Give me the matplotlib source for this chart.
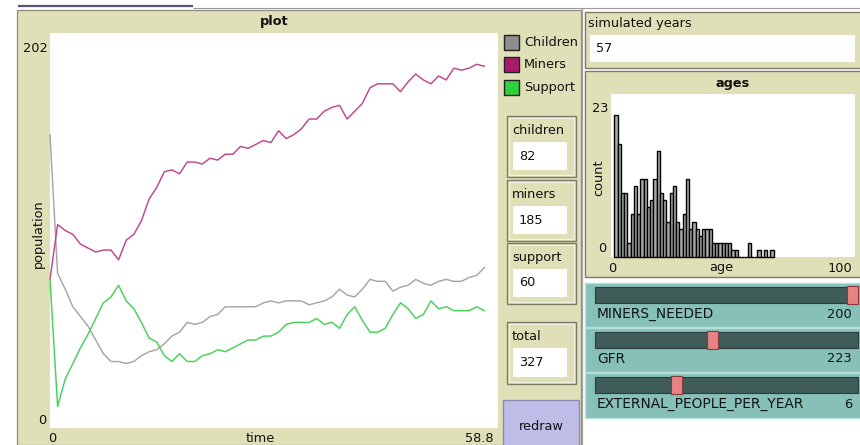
import matplotlib
matplotlib.use('Agg')
import matplotlib.pyplot as plt
from matplotlib.patches import Rectangle
import numpy as np

# ---------------- data ----------------
years = list(range(58))
children = [150, 79, 71, 62, 57, 52, 45, 38, 34, 34, 33, 34, 37, 39, 40, 43, 47, 49, 54, 53,
            54, 57, 58, 62, 62, 62, 62, 62, 64, 65, 64, 65, 65, 65, 63, 64, 65, 67, 71, 68,
            67, 71, 76, 75, 75, 70, 72, 73, 76, 74, 73, 75, 76, 75, 75, 77, 78, 82]
miners = [76, 104, 101, 99, 94, 92, 90, 91, 91, 86, 96, 99, 106, 117, 123, 131, 132, 130, 136, 136,
          135, 138, 137, 140, 140, 144, 143, 145, 147, 146, 152, 148, 150, 153, 158, 158, 162, 164, 165, 158,
          162, 166, 174, 176, 176, 176, 172, 177, 181, 178, 176, 180, 178, 184, 183, 184, 186, 185]
support = [76, 11, 25, 33, 41, 48, 56, 64, 67, 73, 65, 61, 54, 46, 44, 37, 34, 38, 34, 34,
           37, 38, 40, 39, 41, 43, 45, 45, 47, 47, 49, 53, 54, 54, 54, 56, 53, 54, 51, 58,
           62, 55, 49, 49, 51, 58, 64, 61, 56, 58, 65, 61, 62, 60, 60, 60, 62, 60]
series_names = ['Children', 'Miners', 'Support']

age_counts = [20, 16, 9, 9, 2, 6, 10, 6, 11, 11,
              7, 8, 11, 15, 9, 8, 5, 9, 10, 5,
              4, 6, 11, 4, 5, 4, 3, 4, 4, 4,
              2, 2, 2, 2, 2, 2, 1, 1, 0, 0,
              0, 2, 0, 0, 1, 0, 1, 0, 1]
age_bin_width = 4 / 3
age_first_bin = 1  # index of first bin shown

monitor_names = ['children', 'miners', 'support', 'total']
monitor_values = [82, 185, 60, 327]
simulated_years = 57

slider_names = ['MINERS_NEEDED', 'GFR', 'EXTERNAL_PEOPLE_PER_YEAR']
slider_values = [200, 223, 6]
slider_max = [200, 500, 20]

plot_xmax, plot_ymax = 58.8, 202
hist_xmax, hist_ymax = 100, 23

# ---------------- style ----------------
W, H = 860, 445
TAN = '#e0e0b8'
FS = 9.3
plt.rcParams['font.family'] = ['DejaVu Sans']

fig = plt.figure(figsize=(W / 100, H / 100), dpi=100)
fig.patch.set_facecolor('white')
bg = fig.add_axes([0, 0, 1, 1])
bg.set_xlim(0, W)
bg.set_ylim(H, 0)
bg.axis('off')


def rect(x0, y0, x1, y1, fc, ec='none', lw=1.0, z=1):
    bg.add_patch(Rectangle((x0, y0), x1 - x0, y1 - y0, facecolor=fc, edgecolor=ec, lw=lw, zorder=z))


def line(xs, ys, c, lw=1.0, z=3):
    bg.plot(xs, ys, color=c, lw=lw, zorder=z, solid_capstyle='butt')


def txt(x, y, s, ha='left', size=FS, **kw):
    bg.text(x, y, s, ha=ha, va='center', fontsize=size, color=kw.pop('color', '#111111'), zorder=6, **kw)


def axes_px(x0, y0, x1, y1):
    return fig.add_axes([x0 / W, 1 - y1 / H, (x1 - x0) / W, (y1 - y0) / H])


# top strip
line([18, 107], [6, 6], '#55557a', lw=1.6)
line([107, 193], [6, 6], '#55557a', lw=1.6)
line([193, 860], [8, 8], '#9a9a9a', lw=0.8)

# ---------------- main plot panel ----------------
rect(17, 10, 581, 445, TAN, ec='#8c8c80', lw=0.9)
rect(50, 33, 498, 428, 'white')
txt(274, 21, 'plot', ha='center', fontweight='bold')
txt(48, 48, '202', ha='right')
txt(46, 420, '0', ha='right')
txt(52, 438, '0', ha='center')
txt(260, 439, 'time', ha='center')
txt(494, 438, '58.8', ha='right')
txt(38, 234, 'population', ha='center', rotation=90)

pax = axes_px(50, 33, 498, 428)
pax.set_xlim(0, plot_xmax)
pax.set_ylim(0, plot_ymax)
pax.axis('off')
line_colors = ['#a6a6a6', '#c0468c', '#48d158']
for vals, c in zip([children, miners, support], line_colors):
    pax.plot(years, vals, color=c, lw=1.05, clip_on=False)

# legend
legend_colors = ['#8d8d8d', '#a71b6a', '#2cd13b']
for i, (name, c) in enumerate(zip(series_names, legend_colors)):
    yc = 42 + 22.5 * i
    rect(504, yc - 7.5, 519, yc + 7.5, c, ec='#222222', lw=1.0, z=4)
    txt(524, yc, name)

# monitors
mon_boxes = [(116, 177), (180, 241), (243, 304), (322, 384)]
for (y0, y1), name, v in zip(mon_boxes, monitor_names, monitor_values):
    rect(507, y0, 576, y1, TAN, ec='#7a7a6a', lw=1.0, z=2)
    rect(509, y0 + 2, 574, y1 - 2, 'none', ec='#f4f4e4', lw=0.7, z=2)
    rect(513, y0 + 26, 567, y1 - 7, 'white', z=3)
    txt(512, y0 + 14, name)
    txt(519, y0 + 40, str(v))

# redraw button
rect(503, 400, 579, 450, '#bdbde8', ec='#8a8ab0', lw=1.0, z=2)
txt(541, 427, 'redraw', ha='center')

# separator
line([582, 582], [8, 445], '#a0a0a0', lw=0.9)

# ---------------- simulated years monitor ----------------
rect(585, 12, 861, 68, TAN, ec='#7a7a6a', lw=1.0, z=2)
rect(590, 35, 855, 62, 'white', z=3)
txt(588, 24, 'simulated years')
txt(596, 49, str(simulated_years))

# ---------------- ages histogram ----------------
rect(585, 71, 861, 277, TAN, ec='#7a7a6a', lw=1.0, z=2)
rect(611, 94, 855, 257, 'white', z=3)
txt(733, 83, 'ages', ha='center', fontweight='bold')
txt(608, 108, '23', ha='right')
txt(606, 248, '0', ha='right')
txt(612, 268, '0', ha='center')
txt(721, 268, 'age', ha='center')
txt(852, 268, '100', ha='right')
txt(599, 178, 'count', ha='center', rotation=90)

hax = axes_px(611, 94, 855, 257)
hax.set_xlim(0, hist_xmax)
hax.set_ylim(0, hist_ymax)
hax.axis('off')
lefts = (np.arange(len(age_counts)) + age_first_bin) * age_bin_width
hax.bar(lefts, age_counts, width=age_bin_width, align='edge', color='#a9a9a9',
        edgecolor='black', lw=1.0, clip_on=False)

# ---------------- sliders ----------------
slider_boxes = [(283, 327), (328, 372), (373, 418)]
tx0, tx1, knob_w = 595, 858, 11
for (y0, y1), name, v, vmax in zip(slider_boxes, slider_names, slider_values, slider_max):
    rect(585, y0, 861, y1, '#86c0b8', ec='#b8e0da', lw=1.0, z=2)
    rect(tx0, y0 + 4, tx1, y0 + 20, '#3f5c58', ec='#2a3d3a', lw=0.8, z=3)
    kx = tx0 + (tx1 - tx0 - knob_w) * v / vmax
    rect(kx, y0 + 3, kx + knob_w, y0 + 21, '#e88383', ec='#8a3a3a', lw=0.8, z=4)
    txt(597, y0 + 31, name, size=9.9)
    txt(852, y0 + 31, str(v), ha='right')

fig.savefig('out.png', dpi=100, facecolor='white')
